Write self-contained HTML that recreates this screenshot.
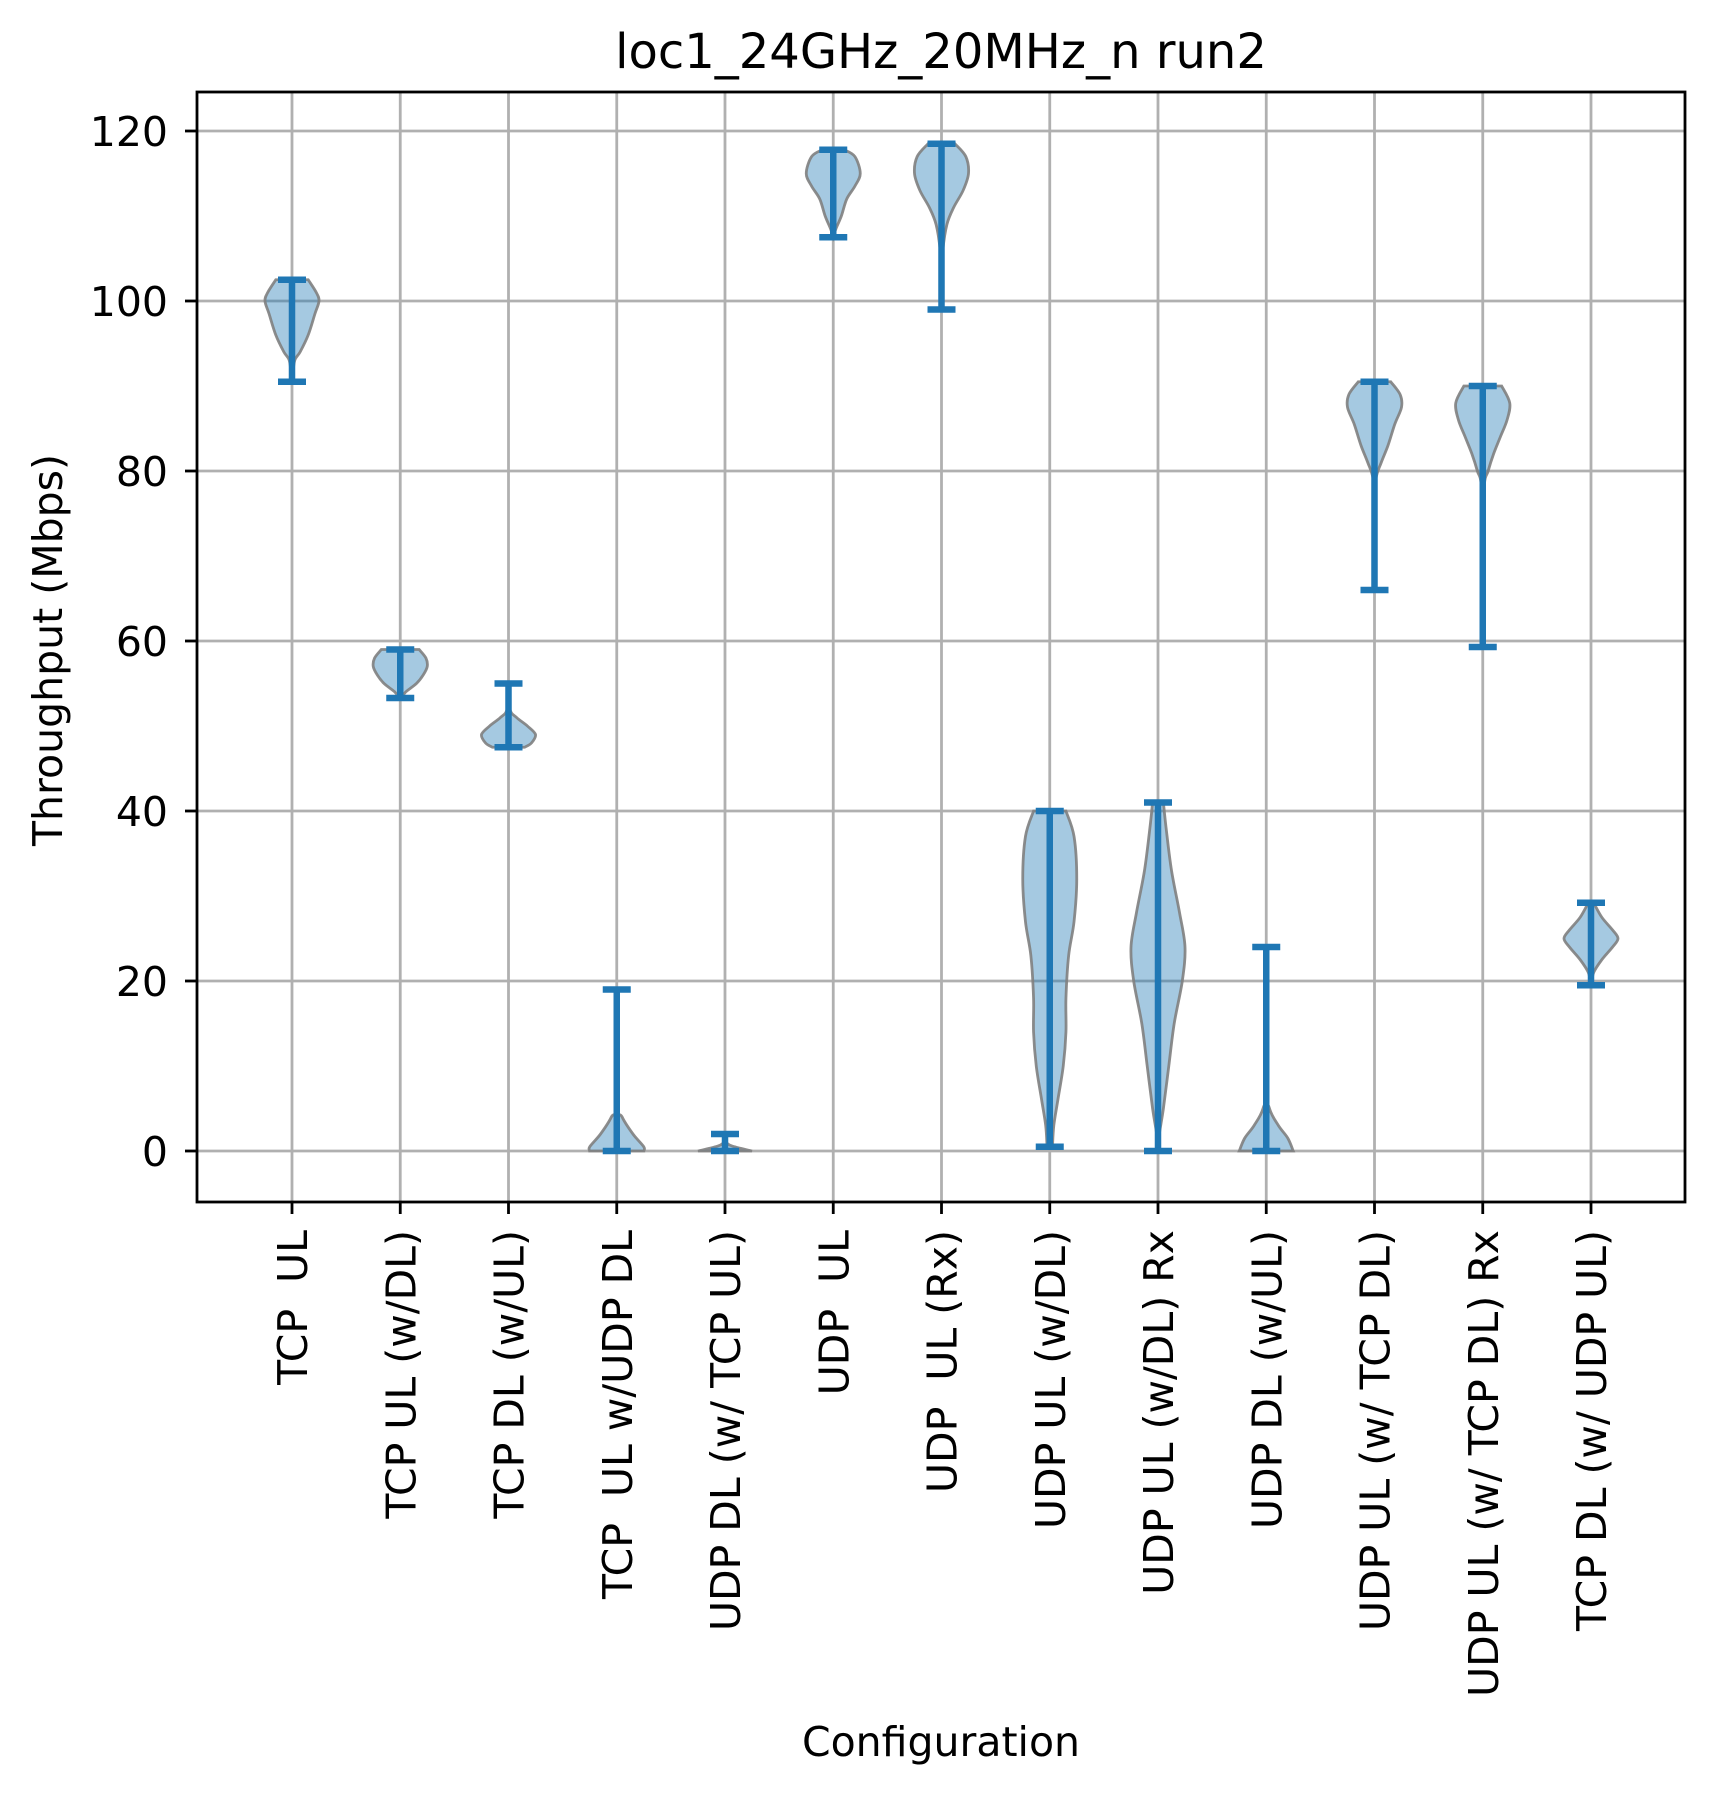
<!DOCTYPE html>
<html><head><meta charset="utf-8"><style>
html,body{margin:0;padding:0;background:#fff;}
svg{display:block;font-family:"DejaVu Sans","Liberation Sans",sans-serif;}
text{white-space:pre;}
</style></head><body>
<svg id="chart" width="1715" height="1794" viewBox="0 0 1715 1794" xmlns="http://www.w3.org/2000/svg">
<rect width="1715" height="1794" fill="#fff"/>
<g id="grid"></g>
<g id="violins"></g>
<rect x="197" y="92" width="1488" height="1110" fill="none" stroke="#000" stroke-width="2.8"/>
<g id="axes"></g>
<text x="941" y="68" font-size="48" text-anchor="middle">loc1_24GHz_20MHz_n run2</text>
<text x="941" y="1756" font-size="41" text-anchor="middle">Configuration</text>
<text transform="translate(62,650) rotate(-90)" font-size="41" text-anchor="middle">Throughput (Mbps)</text>
</svg>
<script>
const categories = ["TCP  UL","TCP UL (w/DL)","TCP DL (w/UL)","TCP  UL w/UDP DL","UDP DL (w/ TCP UL)","UDP  UL","UDP  UL (Rx)","UDP UL (w/DL)","UDP UL (w/DL) Rx","UDP DL (w/UL)","UDP UL (w/ TCP DL)","UDP UL (w/ TCP DL) Rx","TCP DL (w/ UDP UL)"];
const mins = [90.5,53.3,47.5,0,0,107.5,99,0.5,0,0,66,59.3,19.5];
const maxs = [102.5,59,55,19,2,117.8,118.5,40,41,24,90.5,90,29.2];
// density profiles: [value, relative half-width]
const prof1 = [[102.5,.6],[101,.9],[100,1],[98.5,.85],[96,.6],[94,.3],[93,.1],[91,.02],[90.5,0]];
const prof2 = [[59,.7],[58,.95],[57,1],[56,.85],[55,.6],[54,.2],[53.3,0.05]];
const prof3 = [[55,0],[52,.05],[51,.3],[50,.7],[49,1],[48,.85],[47.5,.6]];
const prof4 = [[19,0],[6,.02],[4,.2],[2,.6],[0.5,1],[0,1]];
const prof5 = [[2,0],[1,.05],[0.5,.35],[0,1]];
const prof6 = [[117.8,.4],[117,.8],[115,1],[113.5,.8],[112,.5],[110,.3],[108.5,.1],[107.5,0]];
const prof7 = [[118.5,.5],[117,.9],[115,1],[113,.8],[111,.45],[109,.2],[106,.05],[103,.01],[99,0]];
const prof8 = [[40,.6],[37,.9],[32,1],[27,.9],[23,.7],[18,.6],[14,.6],[10,.5],[6,.3],[3,.15],[0.5,.1]];
const prof9 = [[41,.2],[38,.3],[33,.5],[28,.8],[24,1],[20,.9],[15,.6],[10,.4],[5,.2],[2,.05],[0,0]];
const prof10 = [[24,0],[8,.01],[5,.12],[3,.45],[1.5,.8],[0,1]];
const prof11 = [[90.5,.6],[89,.95],[87.5,1],[85.5,.75],[83,.5],[81,.25],[79,.05],[75,.01],[66,0]];
const prof12 = [[90,.7],[88,1],[86,.9],[84,.65],[82,.4],[80,.2],[78,.05],[70,.01],[59.3,0]];
const prof13 = [[29.2,.1],[27.5,.4],[26,.8],[25,1],[24,.8],[22.5,.4],[21,.1],[19.5,0]];
const profiles = [prof1,prof2,prof3,prof4,prof5,prof6,prof7,prof8,prof9,prof10,prof11,prof12,prof13];
const yTicks = [0,20,40,60,80,100,120];

const NS="http://www.w3.org/2000/svg";
const xPos = i => 292 + i*108.25;
const yPos = v => 1151 - v*8.5;
const HALF = 27;
function mk(tag, attrs, parent){const e=document.createElementNS(NS,tag);for(const k in attrs)e.setAttribute(k,attrs[k]);parent.appendChild(e);return e;}
const grid=document.getElementById('grid'), axes=document.getElementById('axes'), vg=document.getElementById('violins');
yTicks.forEach(t=>{
  const y=yPos(t);
  const g=mk('line',{x1:197,x2:1685,y1:y,y2:y,stroke:'#b0b0b0','stroke-width':2.8},grid);
  
  
  const tk=mk('line',{x1:185,x2:197,y1:y,y2:y,stroke:'#000','stroke-width':2.8},axes);
  
  
  const tx=mk('text',{x:168,y:y+15,'font-size':41,'text-anchor':'end'},axes);
  tx.textContent=String(t);
  
  
});
categories.forEach((c,i)=>{
  const x=xPos(i);
  const g=mk('line',{x1:x,x2:x,y1:92,y2:1202,stroke:'#b0b0b0','stroke-width':2.8},grid);
  
  
  const tk=mk('line',{x1:x,x2:x,y1:1202,y2:1214,stroke:'#000','stroke-width':2.8},axes);
  
  
  const tx=mk('text',{transform:`translate(${x+15},1230) rotate(-90)`,'font-size':41,'text-anchor':'end'},axes);
  tx.textContent=c;
  
  
});
function smooth(pts){
  let d=`M${pts[0][0]},${pts[0][1]}`;
  for(let i=0;i<pts.length-1;i++){
    const p0=pts[Math.max(0,i-1)],p1=pts[i],p2=pts[i+1],p3=pts[Math.min(pts.length-1,i+2)];
    const c1=[p1[0]+(p2[0]-p0[0])/6,p1[1]+(p2[1]-p0[1])/6];
    const c2=[p2[0]-(p3[0]-p1[0])/6,p2[1]-(p3[1]-p1[1])/6];
    d+=` C${c1[0]},${c1[1]} ${c2[0]},${c2[1]} ${p2[0]},${p2[1]}`;
  }
  return d;
}
profiles.forEach((p,i)=>{
  const x=xPos(i);
  const right=p.map(q=>[x+q[1]*HALF,yPos(q[0])]);
  const left=p.map(q=>[x-q[1]*HALF,yPos(q[0])]).reverse();
  const d=smooth(right)+' L'+left[0][0]+','+left[0][1]+' '+smooth(left).slice(1)+' Z';
  const body=mk('path',{d:d,fill:'#1f77b4','fill-opacity':0.4,stroke:'#7f7f7f','stroke-width':2.8,'stroke-opacity':0.9},vg);
  
  
  const yMin=yPos(mins[i]), yMax=yPos(maxs[i]);
  const bar=mk('line',{x1:x,x2:x,y1:yMin,y2:yMax,stroke:'#1f77b4','stroke-width':6.5},vg);
  
  
  const cmax=mk('line',{x1:x-14,x2:x+14,y1:yMax,y2:yMax,stroke:'#1f77b4','stroke-width':6.5},vg);
  
  
  const cmin=mk('line',{x1:x-14,x2:x+14,y1:yMin,y2:yMin,stroke:'#1f77b4','stroke-width':6.5},vg);
  
  
});
</script>
</body></html>
